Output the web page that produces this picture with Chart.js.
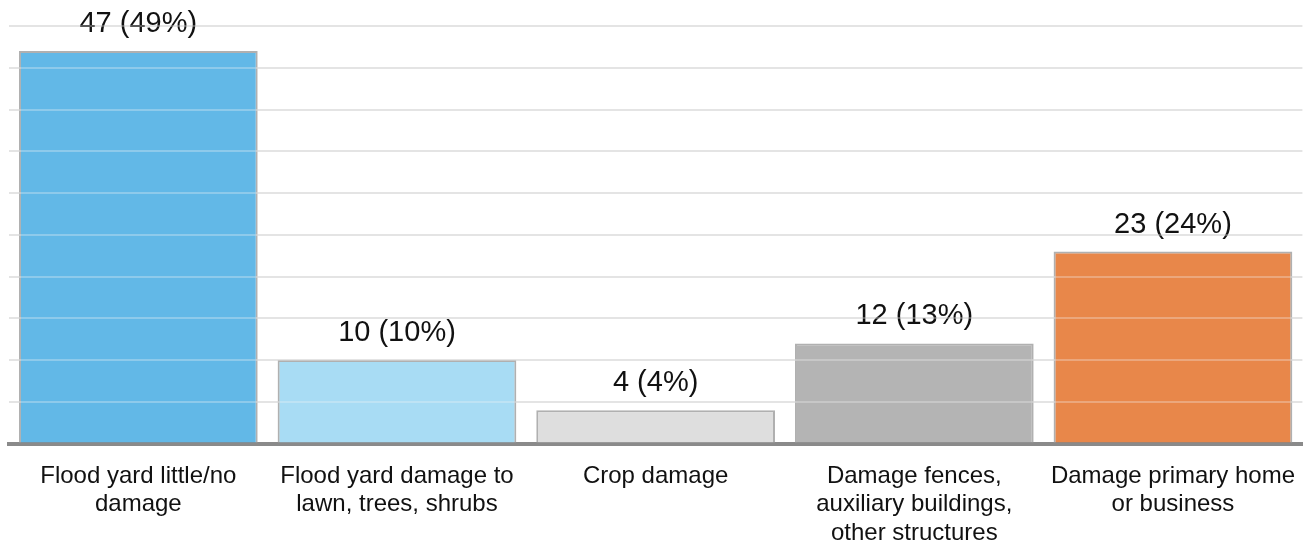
<!DOCTYPE html>
<html>
<head>
<meta charset="utf-8">
<script src="https://cdn.jsdelivr.net/npm/chart.js@4/dist/chart.umd.min.js"></script>
<style>
    body{margin:0;background:#fff;}
    #wrap{width:1314px;height:545px;}
</style>
</head>
<body>
<div id="wrap"><canvas id="damageChart" width="1314" height="545"></canvas></div>
<script>
// flood impact responses
const categories = [
    ['Flood yard little/no', 'damage'],
    ['Flood yard damage to', 'lawn, trees, shrubs'],
    'Crop damage',
    ['Damage fences,', 'auxiliary buildings,', 'other structures'],
    ['Damage primary home', 'or business']
];
const counts = [47, 10, 4, 12, 23];
const percents = [49, 10, 4, 13, 24];
const barColors = [
    'rgba(70,171,227,0.85)',
    'rgba(153,214,242,0.85)',
    'rgba(216,216,216,0.85)',
    'rgba(167,167,167,0.85)',
    'rgba(228,114,42,0.85)'
];
const yTicks = [0, 50, 5]; // min, max, step

// "count (pct%)" above each bar
const valueLabels = {
    id:'valueLabels',
    afterDatasetsDraw(chart){
        const ctx = chart.ctx;
        const meta = chart.getDatasetMeta(0);
        ctx.save();
        ctx.font = '29px "Liberation Sans", Arial, sans-serif';
        ctx.fillStyle = '#111';
        ctx.textAlign = 'center';
        ctx.textBaseline = 'alphabetic';
        meta.data.forEach((bar, i) => {
            ctx.fillText(counts[i] + ' (' + percents[i] + '%)', bar.x, bar.y - 19);
        });
        ctx.restore();
    }
};

// faint light lines where the grid crosses the bars
const gridSheen = {
    id:'gridSheen',
    afterDatasetsDraw(chart){
        const ctx = chart.ctx;
        const y = chart.scales.y;
        const area = chart.chartArea;
        ctx.save();
        ctx.strokeStyle = 'rgba(255,255,255,0.3)';
        ctx.lineWidth = 2;
        y.ticks.forEach((t, i) => {
            if(t.value === 0) return;
            const py = Math.round(y.getPixelForTick(i));
            ctx.beginPath();
            ctx.moveTo(area.left, py);
            ctx.lineTo(area.right, py);
            ctx.stroke();
        });
        ctx.restore();
    }
};

new Chart(document.getElementById('damageChart').getContext('2d'), {
    type:'bar',
    data:{
        labels:categories,
        datasets:[{
            data:counts,
            backgroundColor:barColors,
            borderColor:'#b0b0b0',
            borderWidth:2,
            borderSkipped:'bottom',
            barPercentage:0.923,
            categoryPercentage:1
        }]
    },
    options:{
        responsive:false,
        animation:false,
        layout:{padding:{top:26, left:9, right:10, bottom:-21}},
        plugins:{legend:{display:false}, tooltip:{enabled:false}},
        scales:{
            y:{
                min:yTicks[0],
                max:yTicks[1],
                ticks:{display:false, stepSize:yTicks[2]},
                grid:{color:'#d9d9d9', lineWidth:2, drawTicks:false},
                border:{display:false}
            },
            x:{
                grid:{display:false, drawTicks:false},
                border:{display:true, color:'#8a8a8a', width:4},
                ticks:{
                    color:'#111',
                    font:{family:'"Liberation Sans", Arial, sans-serif', size:24, lineHeight:1.2},
                    padding:18,
                    maxRotation:0,
                    autoSkip:false
                }
            }
        }
    },
    plugins:[valueLabels, gridSheen]
});
</script>
</body>
</html>
